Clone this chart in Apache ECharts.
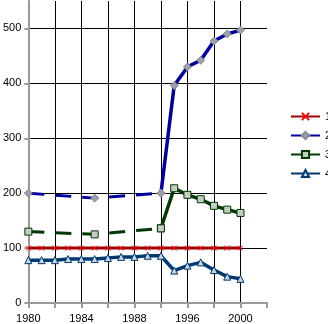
<!DOCTYPE html>
<html><head><meta charset="utf-8">
<script src="https://cdn.jsdelivr.net/npm/echarts@6/dist/echarts.min.js"></script>
<style>html,body{margin:0;padding:0;background:#fff}#c{width:328px;height:324px}</style>
</head><body><div id="c"></div>
<script>
var years = ['1980','1981','1982','1983','1984','1985','1986','1987','1988','1989','1990','1995','1996','1997','1998','1999','2000','2001','2002'];
var s1 = [100,100,100,100,100,100,100,100,100,100,100,100,100,100,100,100,100,null,null];
var s2 = [200,null,null,null,null,191,null,null,null,null,200,396,430,442,477,490,497,null,null];
var s3 = [130,null,null,null,null,125,null,null,null,null,136,209,197,189,177,170,164,null,null];
var s4 = [78,78,78,80,80,80,82,84,84,86,86,59,68,74,60,48,44,null,null];
var yTicks = [0,100,200,300,400,500];
var splitIdx = 10; // last category of the early (dashed) period

function early(a){return a.map(function(v,i){return i<=splitIdx?v:null;});}
function late(a){return a.map(function(v,i){return i>=splitIdx?v:null;});}

var FONT = 'Liberation Sans Narrow, Arial Narrow, Liberation Sans, sans-serif';
var chart = echarts.init(document.getElementById('c'), null, {renderer:'canvas'});
var xPath = 'path://M0,0L10,10M10,0L0,10';
chart.setOption({
  animation:false,
  backgroundColor:'#ffffff',
  grid:{left:23,right:61,top:1,bottom:18,containLabel:false},
  legend:{
    data:['1','2','3','4'], orient:'vertical', left:290, top:111,
    itemWidth:29, itemHeight:9, itemGap:8,
    textStyle:{fontFamily:FONT,fontSize:11,color:'#000',lineHeight:10}, padding:0
  },
  xAxis:{
    type:'category', data:years, boundaryGap:false,
    axisLine:{lineStyle:{color:'#999999',width:2}},
    axisTick:{interval:1,length:5,lineStyle:{color:'#999999',width:2}},
    axisLabel:{interval:3,margin:10,fontFamily:FONT,fontSize:11,color:'#000'},
    splitLine:{show:true,interval:1,showMaxLine:false,lineStyle:{color:'#000',width:1}}
  },
  yAxis:{
    type:'value', min:yTicks[0], max:550, interval:100,
    axisLine:{show:true,lineStyle:{color:'#999999',width:2}},
    axisTick:{show:true,length:4,lineStyle:{color:'#999999',width:2}},
    axisLabel:{margin:7,showMaxLabel:false,fontFamily:FONT,fontSize:11,color:'#000'},
    splitLine:{show:true,showMaxLine:false,lineStyle:{color:'#000',width:1}}
  },
  series:[
    {name:'1',type:'line',data:s1,symbol:xPath,symbolSize:5,showAllSymbol:true,
     lineStyle:{color:'#a00000',width:3},
     itemStyle:{color:'#ff0000',borderColor:'#ff0000',borderWidth:1},z:3},
    {name:'2',type:'line',data:late(s2),symbol:'diamond',symbolSize:8,showAllSymbol:true,
     lineStyle:{color:'#0000a0',width:3.5},
     itemStyle:{color:'#a0a0a8',borderColor:'#8a8a94',borderWidth:1},z:4},
    {name:'2e',type:'line',data:early(s2),connectNulls:true,symbol:'diamond',symbolSize:8,showAllSymbol:true,
     lineStyle:{color:'#0000a0',width:3,type:[16,11],cap:'butt'},
     itemStyle:{color:'#a0a0a8',borderColor:'#8a8a94',borderWidth:1},z:4},
    {name:'3',type:'line',data:late(s3),symbol:'rect',symbolSize:7,showAllSymbol:true,
     lineStyle:{color:'#003a00',width:3.5},
     itemStyle:{color:'#c4ccc4',borderColor:'#003a00',borderWidth:1},z:4},
    {name:'3e',type:'line',data:early(s3),connectNulls:true,symbol:'rect',symbolSize:7,showAllSymbol:true,
     lineStyle:{color:'#003a00',width:3,type:[16,11],cap:'butt'},
     itemStyle:{color:'#c4ccc4',borderColor:'#003a00',borderWidth:1},z:4},
    {name:'4',type:'line',data:s4,symbol:'triangle',symbolSize:7,showAllSymbol:true,
     lineStyle:{color:'#003a70',width:3.5},
     itemStyle:{color:'#c8d4e0',borderColor:'#003a70',borderWidth:1},z:4}
  ]
});
</script></body></html>
